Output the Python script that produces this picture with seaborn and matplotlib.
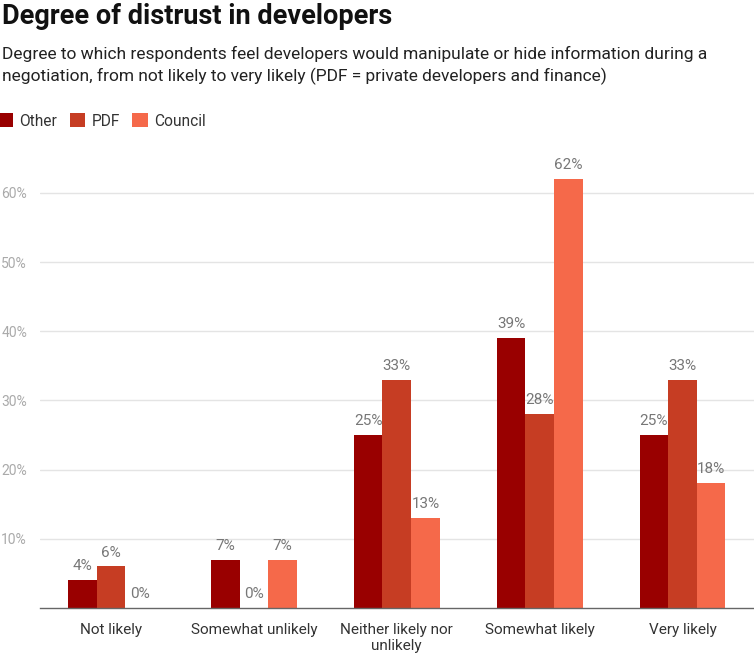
import matplotlib
matplotlib.use("Agg")
import matplotlib.pyplot as plt
import seaborn as sns
import pandas as pd

categories = ["Not likely", "Somewhat unlikely", "Neither likely nor\nunlikely",
              "Somewhat likely", "Very likely"]
series_names = ["Other", "PDF", "Council"]
other = [4, 7, 25, 39, 25]
pdf = [6, 0, 33, 28, 33]
council = [0, 7, 13, 62, 18]
y_ticks = [10, 20, 30, 40, 50, 60]
colors = ["#990000", "#C63D23", "#F5694A"]

rows = []
for name, vals in zip(series_names, [other, pdf, council]):
    for c, v in zip(categories, vals):
        rows.append({"category": c, "series": name, "value": v})
df = pd.DataFrame(rows)

sns.set_theme(style="white")
plt.rcParams["font.family"] = ["Roboto", "DejaVu Sans"]

fig = plt.figure(figsize=(7.54, 6.61), dpi=100)
ax = fig.add_axes([39.5 / 754, 53 / 661, 1 - 39.5 / 754, (608 - 123.6) / 661])

sns.barplot(data=df, x="category", y="value", hue="series", order=categories,
            hue_order=series_names, palette=colors, width=0.6, saturation=1,
            ax=ax, legend=True, linewidth=0)

ax.set_ylim(0, 70)
ax.set_xlim(-0.5, 4.5)
ax.set_yticks(y_ticks)
ax.set_yticklabels([f"{t}%" for t in y_ticks], color="#aaaaaa", fontsize=10)
ax.yaxis.grid(True, color="#e4e4e4", linewidth=1)
ax.set_axisbelow(True)
ax.tick_params(axis="y", length=0, pad=9)
ax.tick_params(axis="x", length=0, pad=11, labelsize=11, labelcolor="#333333")
ax.set_xlabel("")
ax.set_ylabel("")
for s in ["left", "right", "top"]:
    ax.spines[s].set_visible(False)
ax.spines["bottom"].set_color("#666666")
ax.spines["bottom"].set_linewidth(1)

for cont in ax.containers:
    ax.bar_label(cont, labels=[f"{int(round(b.get_height()))}%" for b in cont],
                 padding=5, color="#777777", fontsize=11)

handles, labels = ax.get_legend_handles_labels()
ax.legend(handles, labels, loc="center left", bbox_to_anchor=(-0.003, 1 - 121 / 661),
          bbox_transform=fig.transFigure, ncol=3, frameon=False,
          handlelength=1.0, handleheight=1.0, handletextpad=0.4,
          columnspacing=0.8, fontsize=11.2, labelcolor="#333333", borderaxespad=0,
          borderpad=0)

fig.text(0.002, 1 - 17 / 661, "Degree of distrust in developers", fontsize=19.5,
         fontweight="bold", color="#111111", va="center", ha="left")
fig.text(0.002, 1 - 54 / 661,
         "Degree to which respondents feel developers would manipulate or hide information during a",
         fontsize=12.55, color="#222222", va="center", ha="left")
fig.text(0.002, 1 - 76 / 661,
         "negotiation, from not likely to very likely (PDF = private developers and finance)",
         fontsize=12.55, color="#222222", va="center", ha="left")

fig.savefig("out.png", dpi=100, facecolor="white")
